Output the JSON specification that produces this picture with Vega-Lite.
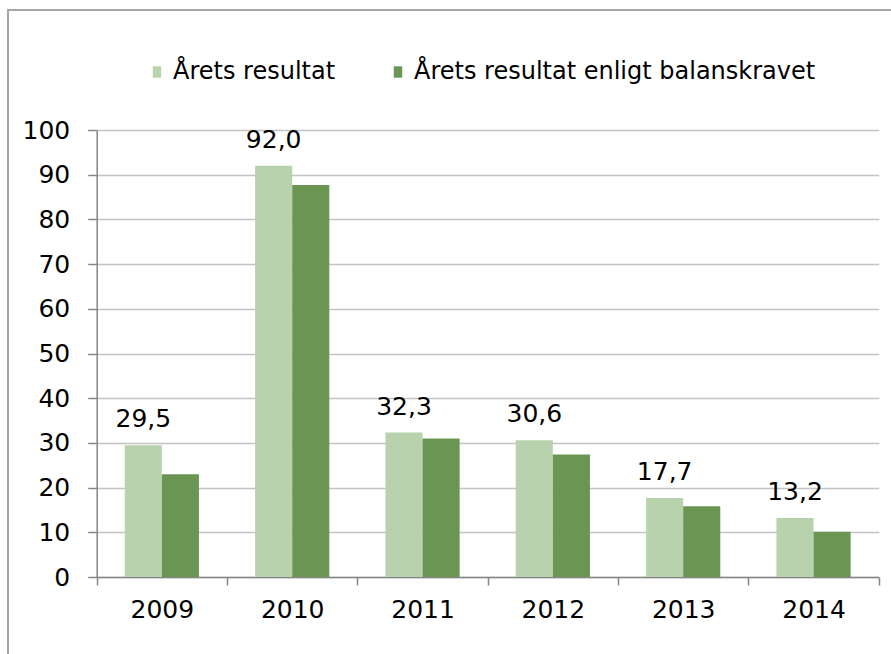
{
  "$schema": "https://vega.github.io/schema/vega-lite/v6.json",
  "width": 886,
  "height": 647,
  "autosize": {"type": "none"},
  "padding": {"left": 8, "top": 10, "right": 0, "bottom": 0},
  "background": "white",
  "config": {
    "font": "DejaVu Sans",
    "view": {"stroke": "#a6a6a6", "strokeWidth": 2, "fill": "white"},
    "locale": {"number": {"decimal": ",", "thousands": " ", "grouping": [3], "currency": ["", " kr"]}},
    "axis": {"labelFont": "DejaVu Sans", "labelColor": "#000000", "title": null}
  },
  "data": {
    "values": [
      {"year": "2009", "series": "Årets resultat", "value": 29.5},
      {"year": "2009", "series": "Årets resultat enligt balanskravet", "value": 23.0},
      {"year": "2010", "series": "Årets resultat", "value": 92.0},
      {"year": "2010", "series": "Årets resultat enligt balanskravet", "value": 87.7},
      {"year": "2011", "series": "Årets resultat", "value": 32.3},
      {"year": "2011", "series": "Årets resultat enligt balanskravet", "value": 31.0},
      {"year": "2012", "series": "Årets resultat", "value": 30.6},
      {"year": "2012", "series": "Årets resultat enligt balanskravet", "value": 27.4},
      {"year": "2013", "series": "Årets resultat", "value": 17.7},
      {"year": "2013", "series": "Årets resultat enligt balanskravet", "value": 15.8},
      {"year": "2014", "series": "Årets resultat", "value": 13.2},
      {"year": "2014", "series": "Årets resultat enligt balanskravet", "value": 10.1}
    ]
  },
  "encoding": {
    "x": {
      "field": "year", "type": "nominal",
      "scale": {"range": [88.7, 870.7], "paddingInner": 0, "paddingOuter": 0},
      "axis": {
        "orient": "bottom", "offset": -80, "tickBand": "extent",
        "labelAngle": 0, "labelFontSize": 25, "labelPadding": 12,
        "tickSize": 8, "tickColor": "#868686", "tickWidth": 1.5,
        "domainColor": "#868686", "domainWidth": 1.5, "grid": false
      }
    },
    "xOffset": {
      "field": "series", "type": "nominal",
      "scale": {"domain": ["Årets resultat", "Årets resultat enligt balanskravet"], "paddingInner": 0, "paddingOuter": 0.757}
    },
    "y": {
      "field": "value", "type": "quantitative",
      "scale": {"domain": [0, 100], "range": [567, 120], "nice": false, "zero": true},
      "axis": {
        "orient": "left", "offset": -88.7,
        "values": [0, 10, 20, 30, 40, 50, 60, 70, 80, 90, 100],
        "labelFontSize": 25, "labelPadding": 18,
        "tickSize": 9, "tickColor": "#868686", "tickWidth": 1.5,
        "domainColor": "#868686", "domainWidth": 1.5,
        "grid": true, "gridColor": "#c4c4c4", "gridWidth": 1.5
      }
    }
  },
  "layer": [
    {
      "mark": {"type": "bar"},
      "encoding": {
        "color": {
          "field": "series", "type": "nominal",
          "scale": {"domain": ["Årets resultat", "Årets resultat enligt balanskravet"], "range": ["#b9d2ae", "#6a9553"]},
          "legend": {
            "orient": "none", "direction": "horizontal", "title": null,
            "legendX": 137, "legendY": 50,
            "labelFontSize": 24, "labelFont": "DejaVu Sans", "labelColor": "#000000",
            "symbolType": "M-0.37,-0.5H0.37V0.5H-0.37Z", "symbolSize": 520,
            "symbolStrokeWidth": 0, "labelOffset": 4, "columnPadding": 50, "labelLimit": 600
          }
        }
      }
    },
    {
      "transform": [{"filter": "datum.series === 'Årets resultat'"}],
      "mark": {"type": "text", "baseline": "alphabetic", "dy": -18, "fontSize": 25, "font": "DejaVu Sans", "color": "#000000"},
      "encoding": {
        "text": {"field": "value", "type": "quantitative", "format": ".1f"}
      }
    }
  ]
}
